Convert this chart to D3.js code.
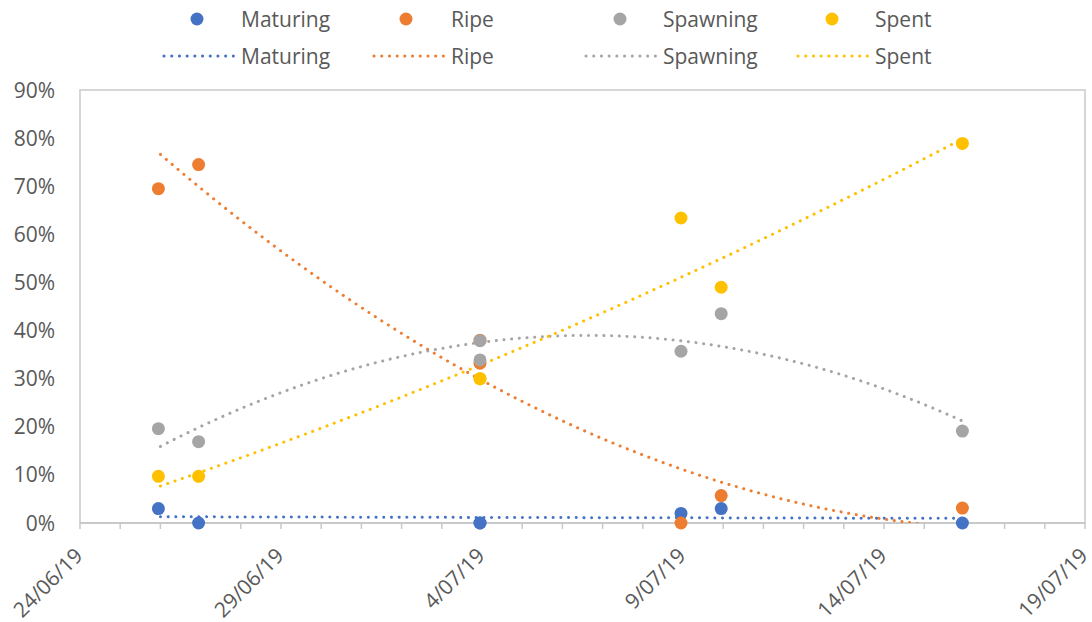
<!DOCTYPE html>
<html>
<head>
<meta charset="utf-8">
<script src="https://cdn.jsdelivr.net/npm/d3@7"></script>
<style>
  html, body { margin: 0; padding: 0; background: #fff; }
  svg { display: block; }
  text { font-family: "Open Sans", "Noto Sans", sans-serif; fill: #595959; }
</style>
</head>
<body>
<svg id="chart" width="1092" height="622"></svg>
<script>
// Sampling dates (two samples were taken on 4 July)
const sampleDates = ["2019-06-26", "2019-06-27", "2019-07-04", "2019-07-04", "2019-07-09", "2019-07-10", "2019-07-16"];

// Proportion of fish in each gonad stage (%)
const maturing = [3.0, 0.0, 0.0, 0.0, 2.0, 3.0, 0.0];
const ripe     = [69.5, 74.5, 33.2, 38.0, 0.0, 5.7, 3.1];
const spawning = [19.6, 16.9, 33.9, 37.9, 35.7, 43.5, 19.1];
const spent    = [9.7, 9.7, 30.0, 30.0, 63.4, 49.0, 78.9];

const seriesNames  = ["Maturing", "Ripe", "Spawning", "Spent"];
const seriesColors = ["#4472C4", "#ED7D31", "#A5A5A5", "#FFC000"];
const seriesValues = [maturing, ripe, spawning, spent];

// Axis settings
const xDomain = ["2019-06-24", "2019-07-19"];
const xLabelEvery = 5;          // days between labelled ticks
const yTicks = [0, 10, 20, 30, 40, 50, 60, 70, 80, 90];

const parse = d3.timeParse("%Y-%m-%d");
const fmtDay = d3.timeFormat("%-d/%m/%y");

const svg = d3.select("#chart");
const plotLeft = 80, plotRight = 1085, plotTop = 90, plotBottom = 523;

const x = d3.scaleTime().domain(xDomain.map(parse)).range([plotLeft, plotRight]);
const y = d3.scaleLinear().domain([0, 90]).range([plotBottom, plotTop]);

// Plot-area frame
svg.append("rect")
  .attr("x", plotLeft).attr("y", plotTop)
  .attr("width", plotRight - plotLeft).attr("height", plotBottom - plotTop)
  .attr("fill", "none").attr("stroke", "#C9C9C9").attr("stroke-width", 1.5);

// Y axis labels
svg.append("g").selectAll("text").data(yTicks).join("text")
  .attr("x", 55).attr("y", d => y(d)).attr("dy", "0.36em")
  .attr("text-anchor", "end").attr("font-size", 21)
  .text(d => d + "%");

// X axis: line, daily tick marks, labels every five days
const days = d3.timeDay.range(parse(xDomain[0]), d3.timeDay.offset(parse(xDomain[1]), 1));
const xAxis = svg.append("g");
xAxis.append("line")
  .attr("x1", plotLeft).attr("x2", plotRight).attr("y1", plotBottom).attr("y2", plotBottom)
  .attr("stroke", "#C9C9C9").attr("stroke-width", 2);
xAxis.selectAll("line.tick").data(days).join("line")
  .attr("class", "tick")
  .attr("x1", d => x(d)).attr("x2", d => x(d))
  .attr("y1", plotBottom).attr("y2", plotBottom + 6)
  .attr("stroke", "#C9C9C9").attr("stroke-width", 1.5);
const labelDays = days.filter((d, i) => i % xLabelEvery === 0);
xAxis.selectAll("text").data(labelDays).join("text")
  .attr("transform", d => `translate(${x(d) + 4},${plotBottom + 34}) rotate(-45)`)
  .attr("text-anchor", "end").attr("font-size", 21)
  .text(fmtDay);

// Clip for the trendlines
svg.append("clipPath").attr("id", "plotClip")
  .append("rect").attr("x", plotLeft).attr("y", plotTop)
  .attr("width", plotRight - plotLeft).attr("height", plotBottom - plotTop);

// Second-order polynomial least-squares trendline
const t0 = parse(sampleDates[0]);
const dayOf = d => (parse(d) - t0) / 864e5;
function polyFit(xs, ys) {
  const n = xs.length;
  const s = [0, 0, 0, 0, 0], b = [0, 0, 0];
  for (let i = 0; i < n; i++) {
    let p = 1;
    for (let k = 0; k < 5; k++) { s[k] += p; if (k < 3) b[k] += p * ys[i]; p *= xs[i]; }
  }
  const M = [[s[0], s[1], s[2], b[0]], [s[1], s[2], s[3], b[1]], [s[2], s[3], s[4], b[2]]];
  for (let c = 0; c < 3; c++) {
    for (let r = c + 1; r < 3; r++) {
      const f = M[r][c] / M[c][c];
      for (let k = c; k < 4; k++) M[r][k] -= f * M[c][k];
    }
  }
  const coef = [0, 0, 0];
  for (let r = 2; r >= 0; r--) {
    let v = M[r][3];
    for (let k = r + 1; k < 3; k++) v -= M[r][k] * coef[k];
    coef[r] = v / M[r][r];
  }
  return t => coef[0] + coef[1] * t + coef[2] * t * t;
}

const xsDays = sampleDates.map(dayOf);
const tMax = d3.max(xsDays);
const trendG = svg.append("g").attr("clip-path", "url(#plotClip)");
seriesValues.forEach((vals, i) => {
  const f = polyFit(xsDays, vals);
  const pts = d3.range(0, tMax + 0.001, 0.1).map(t => [t, f(t)]);
  trendG.append("path")
    .attr("d", d3.line()
      .x(p => x(new Date(+t0 + p[0] * 864e5)))
      .y(p => y(p[1]))(pts))
    .attr("fill", "none")
    .attr("stroke", seriesColors[i])
    .attr("stroke-width", 3)
    .attr("stroke-linecap", "round")
    .attr("stroke-dasharray", "0.1 7.6");
});

// Markers
seriesValues.forEach((vals, i) => {
  svg.append("g").selectAll("circle").data(vals).join("circle")
    .attr("cx", (d, j) => x(parse(sampleDates[j])) - 2)
    .attr("cy", d => y(d))
    .attr("r", 6.5)
    .attr("fill", seriesColors[i]);
});

// Legend
const markerX = [197, 406, 620, 832];
const labelX  = [241, 451, 663, 875];
const legend = svg.append("g");
seriesNames.forEach((name, i) => {
  legend.append("circle")
    .attr("cx", markerX[i]).attr("cy", 19).attr("r", 6.5)
    .attr("fill", seriesColors[i]);
  legend.append("text")
    .attr("x", labelX[i]).attr("y", 19).attr("dy", "0.36em")
    .attr("font-size", 21).text(name);
  legend.append("line")
    .attr("x1", labelX[i] - 77).attr("x2", labelX[i] - 6)
    .attr("y1", 56).attr("y2", 56)
    .attr("stroke", seriesColors[i]).attr("stroke-width", 3)
    .attr("stroke-linecap", "round").attr("stroke-dasharray", "0.1 7.6");
  legend.append("text")
    .attr("x", labelX[i]).attr("y", 56).attr("dy", "0.36em")
    .attr("font-size", 21).text(name);
});
</script>
</body>
</html>
